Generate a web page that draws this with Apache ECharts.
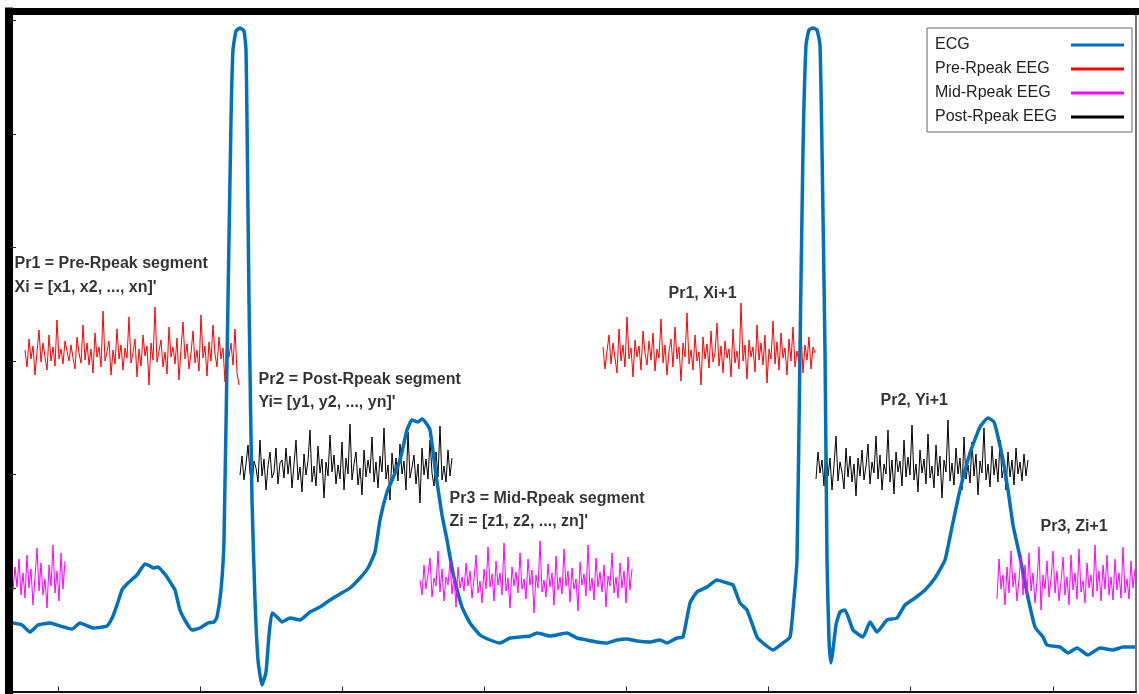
<!doctype html>
<html>
    <head>
        <meta charset="utf-8">
        <title>ECG / EEG segments</title>
        <style>
            html, body { margin: 0; padding: 0; background: #fff; }
            #main { width: 1139px; height: 694px; }
        </style>
    </head>
    <body>
        <div id="main"></div>
        <script src="https://cdn.jsdelivr.net/npm/echarts@6/dist/echarts.min.js"></script>
        <script>

            // ECG trace: [sample, amplitude]
            var ecg = [
                [13,-35],[22,-37],[30,-44],[38,-37],[50,-35],[60,-38],[72,-41],[80,-35],[93,-40],[107,-38],
                [113,-28],[118,-14],[122,-2],[128,5],[137,13],[145,24],[150,22],[153,20],[158,21],[163,16],
                [167,11],[172,3],[175,-2],[180,-22],[186,-34],[192,-42],[200,-40],[208,-35],[214,-34],[217,-29],
                [221,-2],[224,48],[228,288],[231,468],[233,538],[236,557],[240,560],[244,557],[246,538],[247,468],
                [249,288],[252,88],[255,-12],[258,-72],[262,-97],[266,-84],[269,-47],[272,-25],[277,-29],[282,-34],
                [290,-30],[300,-32],[310,-24],[320,-19],[330,-12],[340,-6],[350,0],[360,10],[368,20],[375,36],
                [380,68],[387,96],[393,110],[400,128],[407,158],[412,168],[418,166],[422,169],[426,165],[430,158],
                [436,113],[442,73],[447,48],[453,15],[462,-19],[470,-35],[480,-47],[490,-52],[500,-55],[510,-50],
                [520,-49],[530,-48],[537,-45],[550,-48],[567,-45],[577,-50],[587,-52],[597,-54],[607,-55],[617,-52],
                [627,-51],[637,-53],[650,-54],[660,-52],[667,-55],[677,-50],[683,-49],[690,-15],[697,-4],[707,1],
                [717,8],[727,5],[733,3],[740,-15],[747,-22],[757,-49],[763,-55],[773,-62],[783,-55],[790,-49],
                [793,-22],[797,28],[800,238],[803,438],[806,543],[809,558],[813,560],[817,558],[820,543],[822,438],
                [825,238],[827,28],[829,-52],[831,-75],[833,-62],[836,-37],[840,-24],[845,-22],[853,-42],[863,-49],
                [870,-34],[877,-44],[887,-32],[897,-30],[905,-17],[915,-10],[925,-2],[935,10],[945,28],[952,61],
                [960,98],[970,135],[980,161],[988,170],[994,166],[998,151],[1003,128],[1008,98],[1013,63],[1020,31],
                [1027,-5],[1035,-39],[1043,-49],[1047,-57],[1060,-59],[1068,-65],[1077,-60],[1088,-67],[1100,-60],[1113,-62],
                [1123,-59],[1135,-59]
            ];

            // EEG segments (deviation around the segment baseline, one value every 2 samples)
            var pre1 = [5,-12,16,-4,9,-20,3,25,-7,12,-2,-15,20,-6,8,-11,35,-4,6,-9,14,
                4,-6,10,-3,-14,18,2,-8,30,-5,12,-10,6,-18,22,-2,8,-12,44,-6,3,14,-20,5,-9,26,-4,10,-15,7,
                -3,38,-8,2,16,-22,6,-11,20,-1,9,-30,12,-5,48,-7,4,15,-12,3,-19,28,-2,8,-9,17,-25,6,33,-4,
                11,-14,2,24,-8,5,-16,40,-3,9,-21,13,-6,30,1,-12,18,-4,7,-27,21,-2,12,-10,26,-18,-30];
            var post1 = [-5,14,-10,6,25,-3,-16,9,2,-12,30,-6,11,-20,4,18,-8,-2,22,-14,7,
                10,-8,22,-4,14,-18,6,30,-10,3,-22,16,-5,9,40,-12,4,-16,24,-3,11,-28,8,-6,35,-2,15,-14,5,-9,
                28,-20,12,-4,46,-10,6,18,-15,2,-25,20,-7,10,-3,33,-12,8,-18,14,-2,42,-9,5,-30,17,-6,12,-11,26,
                -4,9,-20,38,-8,3,15,-14,6,-33,22,-5,11,-9,30,-3,-16,18,-7,44,-10,4,-12,20,-6,12];
            var mid1 = [3,-12,18,-6,9,25,-14,5,-3,32,-9,14,-18,6,-2,22,-11,8,-24,16,-5,
                6,-8,20,-3,12,-15,4,28,-10,2,-20,14,-6,36,-4,9,-18,22,-2,10,-12,40,-8,5,-25,16,-3,11,-10,30,
                -6,4,-16,24,-2,13,-30,8,-5,42,-9,3,-14,19,-4,10,-22,27,-7,6,-11,34,-3,12,-19,15,-6,4,-28,21,
                -2,9,-13,38,-8,5,-17,25,-4,11,-9,18,-24,7,-3,30,-10,6,-15,20,-5,12,-20,26,-7,14];
            var midTail = [-8,16,-4,24,-12,10,-15,28,-5,14,-22,6,35,-8,20,-12,4,-25,18,-3,38,-10,12,-18,30,-6,22];
            var pre2 = [8,-14,4,20,-9,12,-3,-18,26,-6,10,-12,38,-4,7,-22,15,-2,9,-15,24,
                2,-10,14,-5,22,-16,6,-3,36,-8,10,-20,4,16,-12,28,-4,8,-26,12,-2,42,-9,5,-15,20,-6,3,-30,18,
                -4,11,-13,24,-7,2,32,-11,9,-18,14,-3,6,-22,26,-8,4,-14,52,-6,10,-24,15,-2,8,-17,30,-5,12,-10,
                20,-28,6,-4,34,-9,13,-15,22,-3,7,-20,16,-6,28,-12,4,-8,24,-18,10,-5,18,-14,8,2];
            var post2 = [-9,18,-3,10,-16,28,-6,12,-20,5,34,-11,8,-2,-19,22,-7,14,-12,6,-26,
                12,-6,20,-10,4,26,-14,8,-3,34,-9,15,-20,6,-4,40,-12,10,-24,18,-2,9,-16,30,-7,13,-5,45,-10,6,
                -22,20,-3,11,-14,36,-8,4,-18,25,-6,14,-28,10,-2,50,-11,7,-15,22,-4,12,-20,33,-9,5,-13,28,-6,16,
                -25,9,-3,42,-10,6,-17,24,-5,11,-12,30,-8,4,-20,18,-7,10,-15,22,-4,8,-11,16,-6,10];
            var mid2 = [-14,26,-4,10,-20,18,-8,34,-2,12,-16,6,30,-10,
                20,-10,32,-6,12,-18,4,38,-25,10,-4,24,-12,6,34,-8,14,-16,3,28,-10,8,-20,30,-5,12,-14,36,-7,4,
                -18,22,-3,10,-12,40,-6,14,-16,20,-4,30,-10,8,-15,26,-5,12,-13,38,-8,6,-14,24,-3,16];

            // segment start sample and baseline amplitude
            var segStart = { pre1: 25, post1: 240, mid1: 420, midTail: 13, pre2: 603, post2: 816, mid2: 997 };
            var segBase  = { pre1: 233, post1: 118, mid1: 5, midTail: 5, pre2: 233, post2: 118, mid2: 3 };
            var segStep = 2;

            var notes = [
                [14, 324, 'Pr1 = Pre-Rpeak segment'],
                [14, 300, "Xi = [x1, x2, ..., xn]'"],
                [258, 208, 'Pr2 = Post-Rpeak segment'],
                [258, 185, "Yi= [y1, y2, ..., yn]'"],
                [449, 89, 'Pr3 = Mid-Rpeak segment'],
                [449, 66, "Zi = [z1, z2, ..., zn]'"],
                [668, 294, 'Pr1, Xi+1'],
                [880, 187, 'Pr2, Yi+1'],
                [1040, 61, 'Pr3, Zi+1']
            ];

            var xTicks = [58, 200, 342, 484, 626, 768, 910, 1053];
            var yTicks = [0, 114, 227, 341, 454, 568];

            function seg(key, vals) {
                return vals.map(function (v, i) {
                    return [segStart[key] + i * segStep, segBase[key] + v];
                });
            }

            var myChart = echarts.init(document.getElementById('main'));

            var eegLine = function (name, color, data, z) {
                return {
                    type: 'line', name: name, data: data, z: z,
                    showSymbol: false, symbol: 'none', silent: true,
                    lineStyle: { color: color, width: 1 },
                    itemStyle: { color: color }
                };
            };

            myChart.setOption({
                animation: false,
                backgroundColor: '#fff',
                grid: { left: 9, right: 3, top: 11.5, bottom: 2.5 },
                xAxis: [{
                    type: 'value', min: 9, max: 1136,
                    axisLine: { onZero: false, lineStyle: { color: '#111', width: 2 } },
                    axisTick: { inside: true, length: 5, customValues: xTicks, lineStyle: { color: '#222' } },
                    axisLabel: { show: false },
                    splitLine: { show: false }
                }, {
                    type: 'value', position: 'top', min: 9, max: 1136,
                    axisLine: { onZero: false, lineStyle: { color: '#000', width: 7, cap: 'square' } },
                    axisTick: { show: false }, axisLabel: { show: false }, splitLine: { show: false }
                }],
                yAxis: [{
                    type: 'value', min: -103.5, max: 576.5,
                    axisLine: { show: true, onZero: false, lineStyle: { color: '#000', width: 8, cap: 'square' } },
                    axisTick: { show: true, inside: true, length: 7, customValues: yTicks, lineStyle: { color: '#222' } },
                    axisLabel: { show: false },
                    splitLine: { show: false }
                }, {
                    type: 'value', position: 'right', min: -103.5, max: 576.5,
                    axisLine: { show: true, onZero: false, lineStyle: { color: '#444', width: 1.5 } },
                    axisTick: { show: false }, axisLabel: { show: false }, splitLine: { show: false }
                }],
                legend: {
                    data: ['ECG', 'Pre-Rpeak EEG', 'Mid-Rpeak EEG', 'Post-Rpeak EEG'],
                    orient: 'vertical',
                    left: 927, top: 28,
                    padding: [5, 8, 3, 8],
                    itemGap: 0,
                    itemWidth: 53, itemHeight: 3,
                    icon: 'rect',
                    align: 'right',
                    selectedMode: false,
                    backgroundColor: '#fff',
                    borderColor: '#666', borderWidth: 1,
                    formatter: '{t|{name}}',
                    textStyle: {
                        fontFamily: 'Liberation Sans', fontSize: 16, color: '#222',
                        rich: { t: { width: 131, height: 24, lineHeight: 24, align: 'left', fontFamily: 'Liberation Sans', fontSize: 16, color: '#222' } }
                    }
                },
                series: [
                    eegLine('Pre-Rpeak EEG', '#ff0000', seg('pre1', pre1), 2),
                    eegLine('Pre-Rpeak EEG', '#ff0000', seg('pre2', pre2), 2),
                    eegLine('Post-Rpeak EEG', '#000000', seg('post1', post1), 2),
                    eegLine('Post-Rpeak EEG', '#000000', seg('post2', post2), 2),
                    {
                        type: 'line', name: 'ECG', data: ecg, z: 3,
                        showSymbol: false, symbol: 'none', silent: true, smooth: 0.15,
                        lineStyle: { color: '#0072BD', width: 3.5 },
                        itemStyle: { color: '#0072BD' }
                    },
                    eegLine('Mid-Rpeak EEG', '#ff00ff', seg('midTail', midTail), 4),
                    eegLine('Mid-Rpeak EEG', '#ff00ff', seg('mid1', mid1), 4),
                    eegLine('Mid-Rpeak EEG', '#ff00ff', seg('mid2', mid2), 4),
                    {
                        type: 'scatter', name: 'notes', z: 5, silent: true,
                        symbolSize: 1, itemStyle: { color: 'rgba(0,0,0,0)' },
                        data: notes.map(function (n) { return { value: [n[0], n[1]], name: n[2] }; }),
                        label: {
                            show: true, position: 'right', distance: 0, formatter: '{b}',
                            fontFamily: 'Liberation Sans', fontSize: 16, fontWeight: 'bold', color: '#000'
                        }
                    }
                ]
            });

        </script>
    </body>
</html>
